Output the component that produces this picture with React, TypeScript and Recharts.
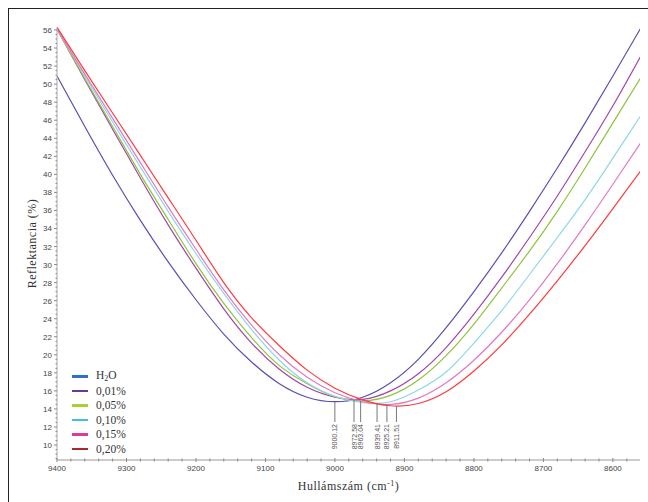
import React from 'react';
import { LineChart, Line, XAxis, YAxis, ReferenceLine, Legend } from 'recharts';

const WAVENUMBERS = [
  9400, 9360, 9320, 9280, 9240, 9200, 9160, 9120, 9080, 9040, 9000,
  8960, 8920, 8880, 8840, 8800, 8760, 8720, 8680, 8640, 8600, 8560,
];

// Reflectance (%) per sample
const H2O = [50.9, 45.3, 39.9, 34.9, 30.3, 26.1, 22.3, 19.2, 16.8, 15.3, 14.8, 15.3, 16.9, 19.5, 23.0, 27.0, 31.3, 35.9, 40.7, 45.7, 50.9, 56.2];
const P001 = [56.1, 50.5, 45.0, 39.6, 34.4, 29.6, 25.1, 21.3, 18.4, 16.4, 15.3, 15.05, 16.0, 17.9, 20.8, 24.5, 28.6, 33.0, 37.6, 42.5, 47.6, 53.1];
const P005 = [56.1, 50.6, 45.3, 40.0, 35.0, 30.1, 25.7, 21.9, 18.8, 16.8, 15.35, 14.9, 15.5, 17.2, 19.9, 23.4, 27.4, 31.5, 35.9, 40.7, 45.7, 50.7];
const P010 = [56.1, 50.9, 45.8, 40.8, 35.9, 31.2, 26.8, 22.8, 19.4, 16.9, 15.4, 14.7, 14.8, 16.1, 18.1, 21.3, 24.9, 28.9, 33.0, 37.2, 41.8, 46.5];
const P015 = [56.1, 51.1, 46.2, 41.3, 36.4, 31.7, 27.2, 23.3, 20.0, 17.5, 15.8, 14.8, 14.5, 15.2, 16.9, 19.4, 22.5, 26.1, 30.1, 34.4, 38.9, 43.5];
const P020 = [56.3, 51.5, 46.8, 42.1, 37.4, 32.7, 28.0, 24.1, 21.0, 18.3, 16.3, 15.0, 14.35, 14.6, 15.9, 18.2, 21.1, 24.5, 28.2, 32.1, 36.2, 40.4];

const SERIES = [
  { key: 'h2o', name: 'H2O', values: H2O, color: '#5b4fb5', legendColor: '#2f6fcf' },
  { key: 'p001', name: '0,01%', values: P001, color: '#a346a8', legendColor: '#6a3a98' },
  { key: 'p005', name: '0,05%', values: P005, color: '#8fc43a', legendColor: '#a8d030' },
  { key: 'p010', name: '0,10%', values: P010, color: '#8fd6ec', legendColor: '#4db8ee' },
  { key: 'p015', name: '0,15%', values: P015, color: '#e07ac6', legendColor: '#e0389a' },
  { key: 'p020', name: '0,20%', values: P020, color: '#ff3b3b', legendColor: '#a52a2a' },
];

// Minimum positions marked under the curves
const MIN_WAVENUMBERS = [9000.12, 8972.58, 8963.04, 8939.41, 8925.21, 8911.51];
const MIN_VALUES = [14.8, 15.0, 14.9, 14.65, 14.5, 14.3];
const MIN_LABELS = ['9000.12', '8972.58', '8963.04', '8939.41', '8925.21', '8911.51'];
const MARK_BOTTOM = 12.55;

const X_MAJOR_TICKS = [9400, 9300, 9200, 9100, 9000, 8900, 8800, 8700, 8600];
const Y_MAJOR_TICKS = [10, 12, 14, 16, 18, 20, 22, 24, 26, 28, 30, 32, 34, 36, 38, 40, 42, 44, 46, 48, 50, 52, 54, 56];

// minor ticks: x every 20, y every 0.5
const X_TICKS: number[] = [];
for (let w = 9400; w >= 8580; w -= 20) X_TICKS.push(w);
const Y_TICKS: number[] = [];
for (let v = 8.5; v <= 56; v += 0.5) Y_TICKS.push(v);

const data = WAVENUMBERS.map((w, i) => {
  const row: any = { w };
  SERIES.forEach((s) => {
    row[s.key] = s.values[i];
  });
  return row;
});

const TICK_FONT = "'Liberation Sans Narrow', 'Liberation Sans', Arial, sans-serif";
const SERIF = "'Liberation Serif', 'Times New Roman', serif";

const XTick = ({ x, y, payload }: any) => {
  const major = X_MAJOR_TICKS.includes(payload.value);
  return (
    <g>
      <line x1={x} x2={x} y1={y - (major ? 2 : 1.5)} y2={y + (major ? 2 : 1.5)} stroke="#888" />
      {major && (
        <text x={x} y={y + 11} textAnchor="middle" fontSize={8} fill="#444" fontFamily={TICK_FONT}>
          {payload.value}
        </text>
      )}
    </g>
  );
};

const YTick = ({ x, y, payload }: any) => {
  const major = Y_MAJOR_TICKS.includes(payload.value);
  return (
    <g>
      <line x1={x - (major ? 3 : 1.5)} x2={x} y1={y} y2={y} stroke="#888" />
      {major && (
        <text x={x - 5} y={y} dy={3} textAnchor="end" fontSize={8} fill="#444" fontFamily={TICK_FONT}>
          {payload.value}
        </text>
      )}
    </g>
  );
};

const MinLabel = ({ viewBox, text }: any) => {
  if (!viewBox) return null;
  const x = viewBox.x + 2.5;
  const y = viewBox.y + viewBox.height + 2;
  return (
    <text
      transform={`translate(${x},${y}) rotate(-90)`}
      textAnchor="end"
      fontSize={7}
      fill="#555"
      fontFamily={TICK_FONT}
    >
      {text}
    </text>
  );
};

const XLabel = ({ viewBox }: any) => {
  const cx = viewBox.x + viewBox.width / 2;
  const y = viewBox.y + viewBox.height - 6;
  return (
    <text x={cx} y={y} textAnchor="middle" fontSize={12} fill="#333" fontFamily={SERIF} letterSpacing={0.5}>
      Hullámszám (cm
      <tspan dy={-4} fontSize={8}>-1</tspan>
      <tspan dy={4}>)</tspan>
    </text>
  );
};

const renderLegend = () => (
  <div style={{ fontFamily: SERIF, fontSize: 11.5, color: '#333' }}>
    {SERIES.map((s) => (
      <div key={s.key} style={{ display: 'flex', alignItems: 'center', height: 14.5 }}>
        <div style={{ width: 16, height: 2.5, background: s.legendColor, marginRight: 8 }} />
        {s.key === 'h2o' ? (
          <span>
            H<sub style={{ fontSize: 8, verticalAlign: '-2px' }}>2</sub>O
          </span>
        ) : (
          <span>{s.name}</span>
        )}
      </div>
    ))}
  </div>
);

export default function App() {
  return (
    <div style={{ position: 'absolute', left: 0, top: 0, width: 648, height: 502, background: '#fff' }}>
      <div
        style={{
          position: 'absolute',
          left: 8,
          top: 8,
          right: 0,
          bottom: 0,
          borderLeft: '1px solid #222',
          borderTop: '1px solid #222',
        }}
      />
      <LineChart width={648} height={502} data={data} margin={{ top: 27, right: 8, bottom: 6, left: 17 }}>
        <XAxis
          dataKey="w"
          type="number"
          reversed
          domain={[8561, 9400]}
          ticks={X_TICKS}
          interval={0}
          tickSize={0}
          tickMargin={0}
          tickLine={false}
          tick={<XTick />}
          axisLine={{ stroke: '#999' }}
          height={36}
          allowDataOverflow
          label={<XLabel />}
        />
        <YAxis
          type="number"
          domain={[8.34, 56.33]}
          ticks={Y_TICKS}
          interval={0}
          tickSize={0}
          tickMargin={0}
          tickLine={false}
          tick={<YTick />}
          axisLine={{ stroke: '#aaa' }}
          width={40}
          allowDataOverflow
          label={{
            value: 'Reflektancia (%)',
            angle: -90,
            position: 'insideLeft',
            offset: 15,
            style: { fontFamily: SERIF, fontSize: 12, fill: '#333', letterSpacing: 0.5, textAnchor: 'middle' },
          }}
        />
        {SERIES.map((s) => (
          <Line
            key={s.key}
            dataKey={s.key}
            name={s.name}
            type="natural"
            stroke={s.color}
            strokeWidth={1.2}
            dot={false}
            isAnimationActive={false}
          />
        ))}
        {MIN_WAVENUMBERS.map((w, i) => (
          <ReferenceLine
            key={MIN_LABELS[i]}
            segment={[
              { x: w, y: MIN_VALUES[i] },
              { x: w, y: MARK_BOTTOM },
            ]}
            stroke="#777"
            strokeWidth={1}
            label={<MinLabel text={MIN_LABELS[i]} />}
          />
        ))}
        <Legend
          layout="vertical"
          align="center"
          verticalAlign="middle"
          content={renderLegend}
          wrapperStyle={{ left: 72, top: 369, width: 100 }}
        />
      </LineChart>
    </div>
  );
}
